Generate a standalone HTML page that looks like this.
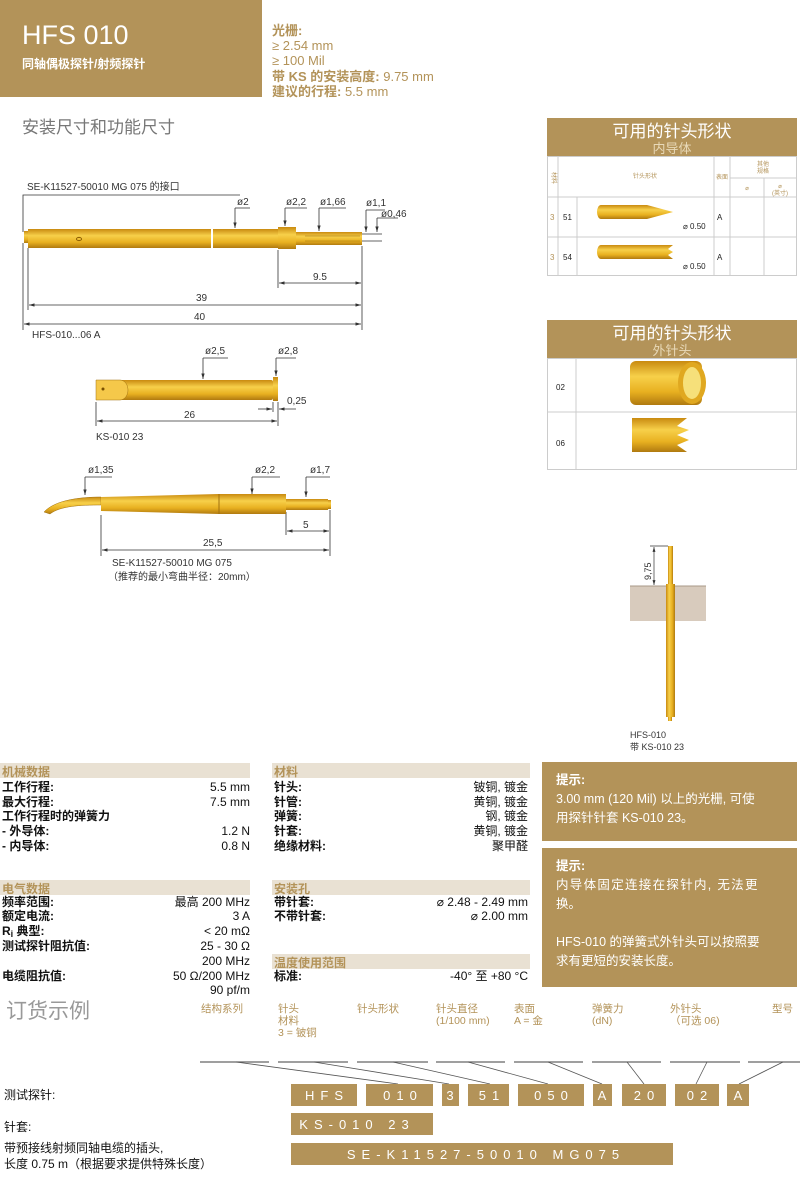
<!DOCTYPE html>
<html><head><meta charset="utf-8"><style>
html,body{margin:0;padding:0;background:#fff;width:800px;height:1182px;overflow:hidden}
svg{display:block}
text{font-family:"Liberation Sans","Noto Sans CJK SC",sans-serif}
.b{font-weight:bold}
</style></head><body>
<svg width="800" height="1182" viewBox="0 0 800 1182" xmlns="http://www.w3.org/2000/svg">
<defs>
<linearGradient id="g" x1="0" y1="0" x2="0" y2="1">
<stop offset="0" stop-color="#c98a10"/><stop offset="0.35" stop-color="#f7d04a"/><stop offset="0.7" stop-color="#e8b020"/><stop offset="1" stop-color="#b07a10"/></linearGradient>
<linearGradient id="gv" x1="0" y1="0" x2="1" y2="0">
<stop offset="0" stop-color="#c98a10"/><stop offset="0.35" stop-color="#f7d04a"/><stop offset="0.7" stop-color="#e8b020"/><stop offset="1" stop-color="#b07a10"/></linearGradient>
<marker id="a" viewBox="0 0 10 10" refX="10" refY="5" markerWidth="7" markerHeight="7" orient="auto-start-reverse"><path d="M0,2L10,5L0,8z" fill="#333"/></marker>
</defs>
<!-- header -->
<rect x="0" y="0" width="262" height="97" fill="#b39359"/>
<text x="22" y="44" font-size="27" fill="#fff">HFS 010</text>
<text x="22" y="68" font-size="12" fill="#fff" class="b">同轴偶极探针/射频探针</text>
<g font-size="13" fill="#b39359">
<text x="272" y="35" class="b">光栅:</text>
<text x="272" y="50">≥ 2.54 mm</text>
<text x="272" y="65">≥ 100 Mil</text>
<text x="272" y="81"><tspan class="b">带 KS 的安装高度:</tspan> 9.75 mm</text>
<text x="272" y="96"><tspan class="b">建议的行程:</tspan> 5.5 mm</text>
</g>
<text x="22" y="133" font-size="17" fill="#777">安装尺寸和功能尺寸</text>

<!-- panel 1 -->
<rect x="547" y="118" width="250" height="38" fill="#b39359"/>
<text x="672" y="137" font-size="17" fill="#fff" text-anchor="middle">可用的针头形状</text>
<text x="672" y="153" font-size="13" fill="#e8d9b8" text-anchor="middle">内导体</text>
<g stroke="#ccc" fill="none" stroke-width="1">
<rect x="547.5" y="156.5" width="249" height="119"/>
<line x1="558" y1="157" x2="558" y2="276"/><line x1="577" y1="197" x2="577" y2="276"/>
<line x1="714" y1="157" x2="714" y2="276"/><line x1="730" y1="157" x2="730" y2="276"/>
<line x1="764" y1="178" x2="764" y2="276"/><line x1="730" y1="178" x2="797" y2="178"/>
<line x1="547" y1="197" x2="797" y2="197"/><line x1="547" y1="237" x2="797" y2="237"/>
</g>
<g font-size="6" fill="#b39359" text-anchor="middle">
<text x="645" y="178">针头形状</text><text x="722" y="179">表面</text>
<text x="763" y="166">其他</text><text x="763" y="173">规格</text>
<text x="747" y="190">⌀</text><text x="780" y="188">⌀</text><text x="780" y="195">(英寸)</text>
<text x="552" y="178" transform="rotate(90 552 178)">材料</text>
</g>
<g font-size="8" fill="#222"><text x="550" y="220" fill="#b39359">3</text><text x="563" y="220">51</text><text x="717" y="220">A</text>
<text x="550" y="260" fill="#b39359">3</text><text x="563" y="260">54</text><text x="717" y="260">A</text>
<text x="683" y="229">⌀ 0.50</text><text x="683" y="269">⌀ 0.50</text></g>
<path d="M601,205h46l26,7l-26,7h-46a4,7 0 0 1 0-14z" fill="url(#g)"/>
<path d="M601,245h72l-5,4l5,3l-5,3l5,4l-5,0h-67a4,7 0 0 1 0-14z" fill="url(#g)"/>

<!-- panel 2 -->
<rect x="547" y="320" width="250" height="38" fill="#b39359"/>
<text x="672" y="339" font-size="17" fill="#fff" text-anchor="middle">可用的针头形状</text>
<text x="672" y="355" font-size="13" fill="#e8d9b8" text-anchor="middle">外针头</text>
<g stroke="#ccc" fill="none"><rect x="547.5" y="358.5" width="249" height="111"/>
<line x1="576" y1="358" x2="576" y2="470"/><line x1="547" y1="412" x2="797" y2="412"/></g>
<text x="556" y="390" font-size="8" fill="#222">02</text><text x="556" y="446" font-size="8" fill="#222">06</text>
<rect x="630" y="361" width="72" height="44" rx="6" fill="url(#g)"/>
<ellipse cx="692" cy="383" rx="14" ry="21" fill="#e0a820"/><ellipse cx="692" cy="383" rx="9" ry="16" fill="#f6e07a"/>
<path d="M632,418h55l-10,8l12,4l-12,5l12,5l-12,5l10,7h-55z" fill="url(#g)"/>

<!-- drawing 1 -->
<g stroke="#333" stroke-width="0.8" fill="none">
<polyline points="240,195 23,195 23,232"/>
<polyline points="235,208 235,228" marker-end="url(#a)"/><line x1="235" y1="208" x2="250" y2="208"/>
<polyline points="285,208 285,226" marker-end="url(#a)"/><line x1="285" y1="208" x2="307" y2="208"/>
<polyline points="319,208 319,231" marker-end="url(#a)"/><line x1="319" y1="208" x2="346" y2="208"/>
<polyline points="366,210 366,232" marker-end="url(#a)"/><line x1="366" y1="210" x2="385" y2="210"/>
<polyline points="377,218 377,232" marker-end="url(#a)"/><line x1="377" y1="218" x2="398" y2="218"/>
<line x1="362" y1="234" x2="382" y2="234"/><line x1="362" y1="241" x2="382" y2="241"/>
<line x1="278" y1="250" x2="278" y2="288"/><line x1="362" y1="246" x2="362" y2="330"/>
<line x1="28" y1="248" x2="28" y2="310"/><line x1="23" y1="243" x2="23" y2="330"/>
<line x1="279" y1="283" x2="361" y2="283" marker-start="url(#a)" marker-end="url(#a)"/>
<line x1="29" y1="305" x2="361" y2="305" marker-start="url(#a)" marker-end="url(#a)"/>
<line x1="24" y1="324" x2="361" y2="324" marker-start="url(#a)" marker-end="url(#a)"/>
</g>
<rect x="24" y="231" width="5" height="12" fill="url(#g)"/>
<rect x="28" y="229" width="183" height="19" fill="url(#g)"/>
<rect x="213" y="229" width="65" height="19" fill="url(#g)"/>
<rect x="278" y="227" width="18" height="22" fill="url(#g)"/>
<rect x="296" y="232" width="66" height="13" fill="url(#g)"/>
<g stroke="#a07010" stroke-width="0.6"><line x1="305" y1="236" x2="360" y2="236"/><line x1="305" y1="241" x2="360" y2="241"/></g>
<ellipse cx="79" cy="239" rx="2.5" ry="1.6" fill="none" stroke="#8a5a00"/>
<g font-size="10" fill="#333">
<text x="27" y="190">SE-K11527-50010 MG 075 的接口</text>
<text x="237" y="205">ø2</text><text x="286" y="205">ø2,2</text><text x="320" y="205">ø1,66</text><text x="366" y="206">ø1,1</text><text x="381" y="217">ø0,46</text>
<text x="313" y="280">9.5</text><text x="196" y="301">39</text><text x="194" y="320">40</text>
<text x="32" y="338">HFS-010...06 A</text>
</g>

<!-- drawing 2 -->
<g stroke="#333" stroke-width="0.8" fill="none">
<line x1="203" y1="358" x2="228" y2="358"/><line x1="203" y1="358" x2="203" y2="379" marker-end="url(#a)"/>
<line x1="276" y1="358" x2="296" y2="358"/><line x1="276" y1="358" x2="276" y2="376" marker-end="url(#a)"/>
<line x1="96" y1="402" x2="96" y2="426"/><line x1="278" y1="402" x2="278" y2="426"/><line x1="273" y1="402" x2="273" y2="412"/>
<line x1="97" y1="421" x2="277" y2="421" marker-start="url(#a)" marker-end="url(#a)"/>
<line x1="258" y1="409" x2="272" y2="409" marker-end="url(#a)"/><line x1="296" y1="409" x2="279" y2="409" marker-end="url(#a)"/>
</g>
<rect x="96" y="380" width="177" height="20" rx="2" fill="url(#g)"/>
<rect x="273" y="377" width="5" height="24" fill="url(#g)"/>
<path d="M96,380h24a8,10 0 0 1 0,20h-24z" fill="#f5c84a" stroke="#a07010" stroke-width="0.5"/>
<circle cx="103" cy="389" r="1.5" fill="#7a5000"/>
<g font-size="10" fill="#333"><text x="205" y="354">ø2,5</text><text x="278" y="354">ø2,8</text>
<text x="184" y="418">26</text><text x="287" y="404">0,25</text><text x="96" y="440">KS-010 23</text></g>

<!-- drawing 3 -->
<g stroke="#333" stroke-width="0.8" fill="none">
<line x1="85" y1="477" x2="112" y2="477"/><line x1="85" y1="477" x2="85" y2="495" marker-end="url(#a)"/>
<line x1="252" y1="477" x2="280" y2="477"/><line x1="252" y1="477" x2="252" y2="494" marker-end="url(#a)"/>
<line x1="306" y1="477" x2="330" y2="477"/><line x1="306" y1="477" x2="306" y2="497" marker-end="url(#a)"/>
<line x1="101" y1="515" x2="101" y2="556"/><line x1="286" y1="512" x2="286" y2="535"/><line x1="330" y1="510" x2="330" y2="556"/>
<line x1="287" y1="531" x2="329" y2="531" marker-start="url(#a)" marker-end="url(#a)"/>
<line x1="102" y1="550" x2="329" y2="550" marker-start="url(#a)" marker-end="url(#a)"/>
</g>
<path d="M101,497C80,497 55,500 44,512L50,514C60,506 80,505 101,505z" fill="url(#g)" stroke="#a07010" stroke-width="0.5"/>
<path d="M101,497L219,494L219,514L101,511z" fill="url(#g)"/>
<rect x="219" y="494" width="67" height="20" fill="url(#g)"/>
<line x1="219" y1="494" x2="219" y2="514" stroke="#a07010"/>
<rect x="286" y="499" width="42" height="11" fill="url(#g)"/><rect x="328" y="500" width="3" height="9" fill="url(#g)"/>
<g font-size="10" fill="#333"><text x="88" y="473">ø1,35</text><text x="255" y="473">ø2,2</text><text x="310" y="473">ø1,7</text>
<text x="303" y="528">5</text><text x="203" y="546">25,5</text>
<text x="112" y="566">SE-K11527-50010 MG 075</text><text x="108" y="580">（推荐的最小弯曲半径：20mm）</text></g>

<!-- drawing 4 -->
<rect x="630" y="586" width="76" height="35" fill="#d8cbbd"/>
<line x1="630" y1="586" x2="706" y2="586" stroke="#a89888"/>
<rect x="668" y="546" width="5" height="40" fill="url(#gv)"/>
<rect x="666" y="584" width="9" height="133" fill="url(#gv)"/>
<rect x="668" y="717" width="4" height="4" fill="url(#gv)"/>
<g stroke="#333" stroke-width="0.7"><line x1="650" y1="546" x2="668" y2="546"/><line x1="654" y1="547" x2="654" y2="585" marker-start="url(#a)" marker-end="url(#a)"/></g>
<text x="651" y="580" font-size="9" fill="#333" transform="rotate(-90 651 580)">9,75</text>
<text x="630" y="738" font-size="9" fill="#333">HFS-010</text><text x="630" y="750" font-size="9" fill="#333">带 KS-010 23</text>

<!-- data -->
<g fill="#e9e1d3"><rect x="0" y="763" width="250" height="15"/><rect x="272" y="763" width="258" height="15"/>
<rect x="0" y="880" width="250" height="15"/><rect x="272" y="880" width="258" height="15"/><rect x="272" y="954" width="258" height="15"/></g>
<g font-size="12" class="b" fill="#b39359"><text x="2" y="776">机械数据</text><text x="274" y="776">材料</text>
<text x="2" y="893">电气数据</text><text x="274" y="893">安装孔</text><text x="274" y="967">温度使用范围</text></g>
<g font-size="12" fill="#111">
<g class="b"><text x="2" y="791">工作行程:</text><text x="2" y="806">最大行程:</text><text x="2" y="820">工作行程时的弹簧力</text><text x="2" y="835">- 外导体:</text><text x="2" y="850">- 内导体:</text>
<text x="274" y="791">针头:</text><text x="274" y="806">针管:</text><text x="274" y="820">弹簧:</text><text x="274" y="835">针套:</text><text x="274" y="850">绝缘材料:</text>
<text x="2" y="906">频率范围:</text><text x="2" y="920">额定电流:</text><text x="2" y="935">R<tspan font-size="9" dy="2">i</tspan><tspan dy="-2"> 典型:</tspan></text><text x="2" y="950">测试探针阻抗值:</text><text x="2" y="980">电缆阻抗值:</text>
<text x="274" y="906">带针套:</text><text x="274" y="920">不带针套:</text><text x="274" y="980">标准:</text></g>
<g text-anchor="end"><text x="250" y="791">5.5 mm</text><text x="250" y="806">7.5 mm</text><text x="250" y="835">1.2 N</text><text x="250" y="850">0.8 N</text>
<text x="528" y="791">铍铜, 镀金</text><text x="528" y="806">黄铜, 镀金</text><text x="528" y="820">钢, 镀金</text><text x="528" y="835">黄铜, 镀金</text><text x="528" y="850">聚甲醛</text>
<text x="250" y="906">最高 200 MHz</text><text x="250" y="920">3 A</text><text x="250" y="935">&lt; 20 mΩ</text><text x="250" y="950">25 - 30 Ω</text><text x="250" y="965">200 MHz</text><text x="250" y="980">50 Ω/200 MHz</text><text x="250" y="994">90 pf/m</text>
<text x="528" y="906">⌀ 2.48 - 2.49 mm</text><text x="528" y="920">⌀ 2.00 mm</text><text x="528" y="980">-40° 至 +80 °C</text></g>
</g>

<!-- notes -->
<rect x="542" y="762" width="255" height="79" fill="#b39359"/>
<rect x="542" y="848" width="255" height="139" fill="#b39359"/>
<g font-size="12.5" fill="#fff"><text x="556" y="784" class="b">提示:</text><text x="556" y="803">3.00 mm (120 Mil) 以上的光栅, 可使</text><text x="556" y="822">用探针针套 KS-010 23。</text>
<text x="556" y="870" class="b">提示:</text><text x="556" y="889" letter-spacing="1.3">内导体固定连接在探针内, 无法更</text><text x="556" y="908">换。</text>
<text x="556" y="946">HFS-010  的弹簧式外针头可以按照要</text><text x="556" y="965">求有更短的安装长度。</text></g>

<!-- ordering -->
<rect x="0" y="996" width="800" height="1" fill="#fff"/>
<text x="6" y="1018" font-size="21" fill="#999">订货示例</text>
<g font-size="10.5" fill="#b39359"><text x="201" y="1012">结构系列</text><text x="278" y="1012">针头</text><text x="278" y="1024">材料</text><text x="278" y="1036">3 = 铍铜</text>
<text x="357" y="1012">针头形状</text><text x="436" y="1012">针头直径</text><text x="436" y="1024">(1/100 mm)</text><text x="514" y="1012">表面</text><text x="514" y="1024">A = 金</text>
<text x="592" y="1012">弹簧力</text><text x="592" y="1024">(dN)</text><text x="670" y="1012">外针头</text><text x="670" y="1024">（可选 06)</text><text x="772" y="1012">型号</text></g>
<g stroke="#666" stroke-width="1.2"><line x1="200" y1="1062" x2="269" y2="1062"/><line x1="278" y1="1062" x2="348" y2="1062"/><line x1="357" y1="1062" x2="428" y2="1062"/><line x1="436" y1="1062" x2="505" y2="1062"/><line x1="514" y1="1062" x2="583" y2="1062"/><line x1="592" y1="1062" x2="661" y2="1062"/><line x1="670" y1="1062" x2="740" y2="1062"/><line x1="748" y1="1062" x2="800" y2="1062"/></g>
<g stroke="#555" stroke-width="0.8"><line x1="236" y1="1062" x2="398" y2="1084"/><line x1="314" y1="1062" x2="449" y2="1084"/><line x1="393" y1="1062" x2="490" y2="1084"/><line x1="468" y1="1062" x2="548" y2="1084"/><line x1="548" y1="1062" x2="602" y2="1084"/><line x1="627" y1="1062" x2="644" y2="1084"/><line x1="707" y1="1062" x2="696" y2="1084"/><line x1="783" y1="1062" x2="739" y2="1084"/></g>
<g fill="#b39359"><rect x="291" y="1084" width="66" height="22"/><rect x="366" y="1084" width="67" height="22"/><rect x="442" y="1084" width="17" height="22"/><rect x="468" y="1084" width="41" height="22"/><rect x="518" y="1084" width="66" height="22"/><rect x="593" y="1084" width="19" height="22"/><rect x="622" y="1084" width="44" height="22"/><rect x="675" y="1084" width="44" height="22"/><rect x="727" y="1084" width="22" height="22"/>
<rect x="291" y="1113" width="142" height="22"/><rect x="291" y="1143" width="382" height="22"/></g>
<g font-size="13" fill="#fff" text-anchor="middle" letter-spacing="6"><text x="327" y="1100">HFS</text><text x="403" y="1100">010</text><text x="453" y="1100">3</text><text x="492" y="1100">51</text><text x="554" y="1100">050</text><text x="605" y="1100">A</text><text x="647" y="1100">20</text><text x="700" y="1100">02</text><text x="741" y="1100">A</text>
<text x="357" y="1129">KS-010 23</text><text x="486" y="1159">SE-K11527-50010 MG075</text></g>
<g font-size="12" fill="#111"><text x="4" y="1099">测试探针:</text><text x="4" y="1131">针套:</text><text x="4" y="1152">带预接线射频同轴电缆的插头,</text><text x="4" y="1168">长度 0.75 m（根据要求提供特殊长度）</text></g>
</svg>
</body></html>
